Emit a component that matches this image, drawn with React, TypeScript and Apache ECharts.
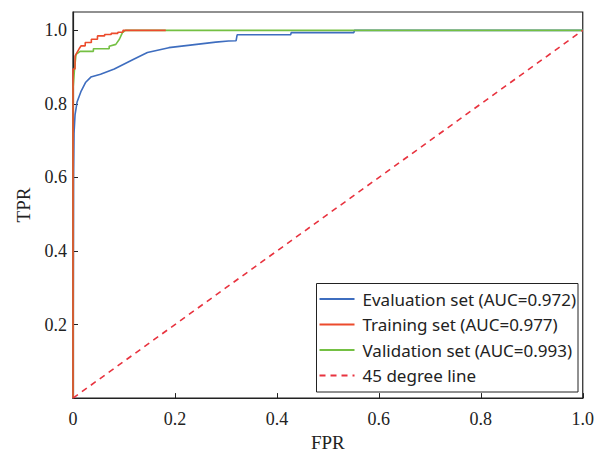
import React, { useEffect, useRef } from "react";
import * as echarts from "echarts";

const seriesNames = [
  "Evaluation set (AUC=0.972)",
  "Training set (AUC=0.977)",
  "Validation set (AUC=0.993)",
  "45 degree line",
];

// Evaluation set ROC points [FPR, TPR]
const evaluationRoc: number[][] = [
  [0, 0], [0.001, 0.6], [0.002, 0.72], [0.004, 0.77], [0.008, 0.805], [0.016, 0.835], [0.025, 0.859],
  [0.035, 0.873], [0.054, 0.881], [0.081, 0.895], [0.12, 0.922], [0.146, 0.94],
  [0.188, 0.953], [0.23, 0.96], [0.28, 0.968], [0.305, 0.971], [0.32, 0.972],
  [0.322, 0.988], [0.427, 0.988], [0.428, 0.994], [0.551, 0.994], [0.552, 1.0], [1.0, 1.0],
];

// Training set ROC points [FPR, TPR]
const trainingRoc: number[][] = [
  [0, 0], [0, 0.895], [0.004, 0.895], [0.004, 0.93], [0.008, 0.94], [0.012, 0.95],
  [0.016, 0.958], [0.024, 0.958], [0.024, 0.967], [0.036, 0.967], [0.036, 0.976],
  [0.048, 0.976], [0.048, 0.985], [0.062, 0.985], [0.062, 0.989], [0.075, 0.989],
  [0.075, 0.992], [0.088, 0.992], [0.088, 0.995], [0.098, 0.995], [0.098, 1.0], [0.182, 1.0],
];

// Validation set ROC points [FPR, TPR]
const validationRoc: number[][] = [
  [0, 0], [0, 0.84], [0.003, 0.895], [0.006, 0.935], [0.014, 0.943], [0.04, 0.943],
  [0.04, 0.95], [0.071, 0.95], [0.071, 0.957], [0.084, 0.962], [0.091, 0.976],
  [0.094, 0.985], [0.097, 0.994], [0.103, 1.0], [1.0, 1.0],
];

const diagonal: number[][] = [[0, 0], [1, 1]];

export default function App() {
  const ref = useRef<HTMLDivElement>(null);
  useEffect(() => {
    document.body.style.margin = "0";
    if (!ref.current) return;
    const chart = echarts.init(ref.current, undefined, { renderer: "svg" });
    const serif = "'Liberation Serif', 'Times New Roman', serif";
    const fmt = (v: number, hideZero: boolean) => {
      if (Math.abs(v * 5 - Math.round(v * 5)) > 1e-6) return "";
      if (Math.abs(v) < 1e-9) return hideZero ? "" : "0";
      return v.toFixed(1);
    };
    chart.setOption({
      animation: false,
      backgroundColor: "#fff",
      grid: {
        left: 73,
        right: 9,
        top: 12,
        bottom: 56,
        show: true,
        borderColor: "#222",
        borderWidth: 1.2,
      },
      legend: {
        orient: "vertical",
        right: 19,
        bottom: 65,
        padding: [7, 2, 8, 2],
        itemGap: 8.5,
        itemWidth: 35,
        itemHeight: 17,
        borderColor: "#222",
        borderWidth: 1,
        backgroundColor: "#fff",
        itemStyle: { opacity: 0, color: "transparent", borderWidth: 0 },
        textStyle: {
          fontFamily: "'Noto Sans', sans-serif",
          fontSize: 17,
          color: "#222",
          padding: [0, 0, 0, 3],
        },
        data: seriesNames,
      },
      xAxis: {
        type: "value",
        min: 0,
        max: 1,
        interval: 0.2,
        name: "FPR",
        nameLocation: "middle",
        nameGap: 27,
        nameTextStyle: { fontFamily: serif, fontSize: 19, color: "#222" },
        axisLine: { show: true, lineStyle: { color: "#222", width: 1.2 } },
        axisTick: { show: true, inside: true, length: 5, lineStyle: { color: "#222" } },
        axisLabel: {
          fontFamily: serif,
          fontSize: 18,
          color: "#222",
          margin: 12,
          formatter: (v: number) => fmt(v, false),
        },
        splitLine: { show: false },
      },
      yAxis: {
        type: "value",
        min: 0,
        max: 1.05,
        interval: 0.2,
        name: "TPR",
        nameLocation: "middle",
        nameGap: 40,
        nameTextStyle: { fontFamily: serif, fontSize: 19, color: "#222" },
        axisLine: { show: true, lineStyle: { color: "#222", width: 1.2 } },
        axisTick: { show: true, inside: true, length: 5, lineStyle: { color: "#222" } },
        axisLabel: {
          fontFamily: serif,
          fontSize: 18,
          color: "#222",
          margin: 6,
          showMaxLabel: false,
          formatter: (v: number) => fmt(v, true),
        },
        splitLine: { show: false },
      },
      series: [
        {
          name: seriesNames[0],
          type: "line",
          data: evaluationRoc,
          symbol: "none",
          z: 2,
          lineStyle: { color: "#3E6DBF", width: 1.6 },
          itemStyle: { color: "#3E6DBF" },
        },
        {
          name: seriesNames[1],
          type: "line",
          data: trainingRoc,
          symbol: "none",
          z: 4,
          lineStyle: { color: "#EC4B2C", width: 1.6 },
          itemStyle: { color: "#EC4B2C" },
        },
        {
          name: seriesNames[2],
          type: "line",
          data: validationRoc,
          symbol: "none",
          z: 3,
          lineStyle: { color: "#74C043", width: 1.6 },
          itemStyle: { color: "#74C043" },
        },
        {
          name: seriesNames[3],
          type: "line",
          data: diagonal,
          symbol: "none",
          z: 5,
          lineStyle: { color: "#E8333F", width: 1.6, type: [6, 5] },
          itemStyle: { color: "#E8333F" },
        },
      ],
    });
    return () => chart.dispose();
  }, []);
  return <div ref={ref} style={{ width: 597, height: 457 }} />;
}
